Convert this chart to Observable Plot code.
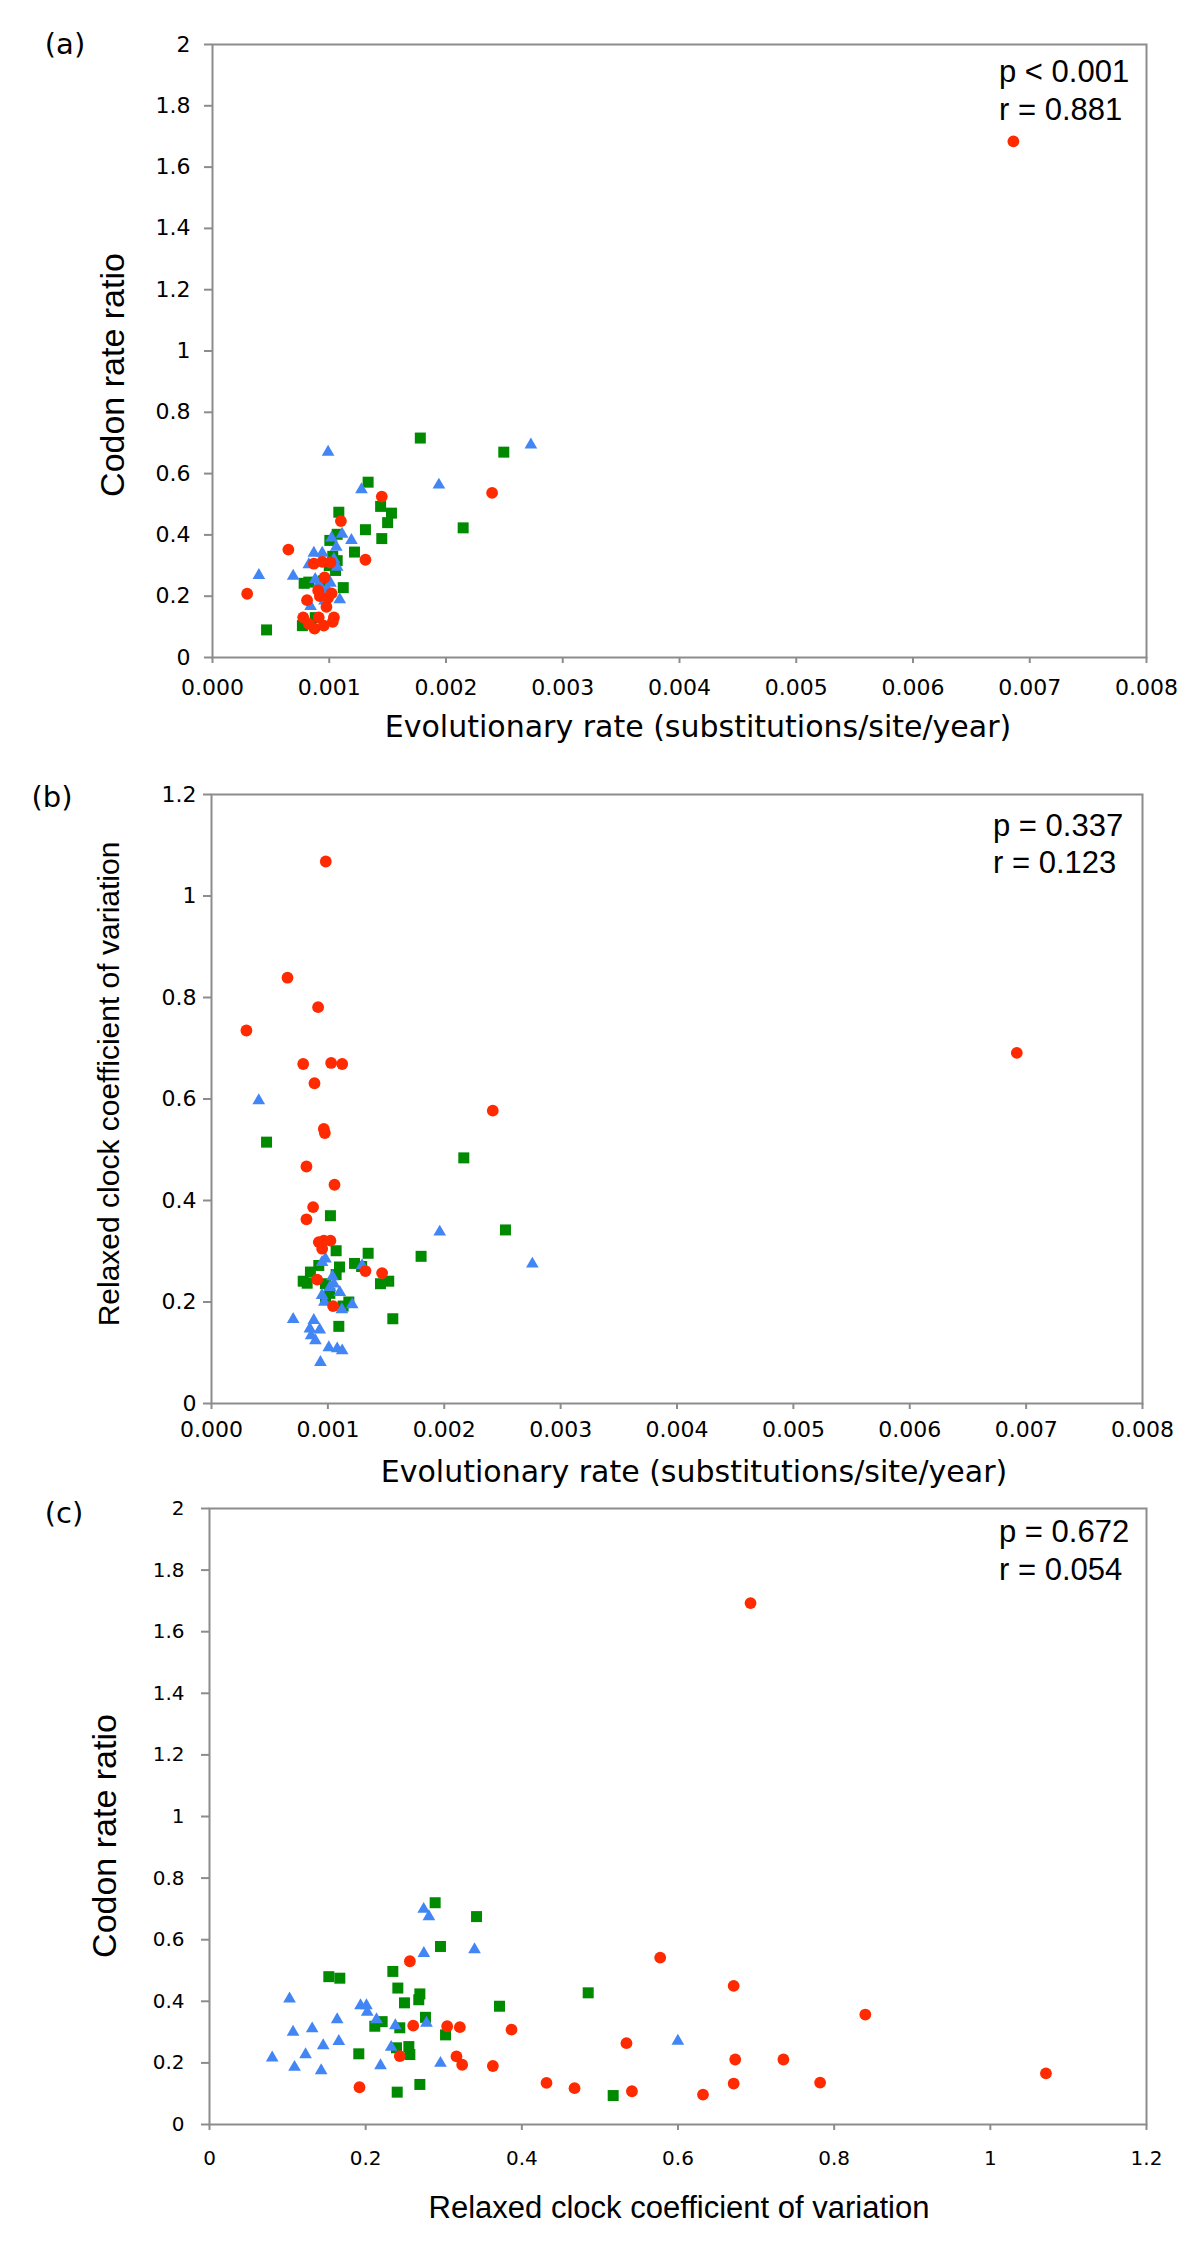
<!DOCTYPE html>
<html>
<head>
<meta charset="utf-8">
<script src="https://cdn.jsdelivr.net/npm/d3@7"></script>
<script src="https://cdn.jsdelivr.net/npm/@observablehq/plot@0.6"></script>
<style>
  html, body { margin: 0; padding: 0; background: #fff; }
  #wrap { position: relative; width: 1200px; height: 2246px; overflow: hidden; background: #fff; }
  .panel { position: absolute; left: 0; }
  .t { position: absolute; white-space: nowrap; line-height: 1; color: #000; }
  .stat { font-family: "Liberation Sans", Arial, sans-serif; font-size: 31px; }
  .plabel { font-family: "DejaVu Sans", sans-serif; font-size: 29px; }
</style>
</head>
<body>
<div id="wrap"></div>
<script>
// ---------------- DATA ----------------
// Tick values
const rateTicks  = [0, 0.001, 0.002, 0.003, 0.004, 0.005, 0.006, 0.007, 0.008];
const ratioTicks = [0, 0.2, 0.4, 0.6, 0.8, 1, 1.2, 1.4, 1.6, 1.8, 2];
const cvTicks    = [0, 0.2, 0.4, 0.6, 0.8, 1, 1.2];

// Panel (a): [evolutionary rate, codon rate ratio]
const aRed = [
  [0.00686,1.684],[0.000297,0.208],[0.00065,0.352],[0.0011,0.445],[0.00145,0.525],[0.00131,0.319],
  [0.002395,0.537],[0.000868,0.306],[0.00094,0.312],[0.00101,0.31],[0.00096,0.261],[0.000905,0.219],
  [0.00102,0.209],[0.00081,0.187],[0.000976,0.165],[0.000777,0.131],[0.00091,0.131],[0.00104,0.131],
  [0.000825,0.11],[0.000874,0.094],[0.000953,0.104],[0.00103,0.116],[0.00092,0.2],[0.00099,0.195]
];
const aGreen = [
  [0.00178,0.716],[0.002495,0.67],[0.001333,0.572],[0.002147,0.423],[0.000463,0.09],[0.001082,0.474],
  [0.00144,0.493],[0.001533,0.471],[0.0015,0.44],[0.00131,0.417],[0.00145,0.388],[0.001068,0.402],
  [0.001005,0.382],[0.001216,0.344],[0.001068,0.316],[0.001054,0.284],[0.000825,0.246],[0.000785,0.242],
  [0.00112,0.228],[0.00077,0.104],[0.00103,0.33],[0.00095,0.25],[0.00088,0.13],[0.001,0.3]
];
const aBlue = [
  [0.00099,0.67],[0.002727,0.694],[0.001939,0.563],[0.001276,0.548],[0.000397,0.268],[0.000691,0.266],
  [0.00111,0.403],[0.00119,0.382],[0.00106,0.36],[0.000868,0.341],[0.00094,0.341],[0.001068,0.295],
  [0.000825,0.303],[0.00101,0.243],[0.00091,0.24],[0.00109,0.189],[0.00084,0.167],[0.00095,0.2],
  [0.00098,0.225],[0.00092,0.31],[0.00104,0.32],[0.00088,0.255],[0.00102,0.39],[0.00096,0.185]
];

// Panel (b): [evolutionary rate, relaxed clock CV]
const bRed = [
  [0.0003,0.735],[0.000788,0.669],[0.001028,0.671],[0.001123,0.669],[0.000885,0.631],[0.002417,0.577],
  [0.000965,0.541],[0.000974,0.533],[0.000816,0.467],[0.001057,0.431],[0.000873,0.387],[0.000816,0.363],
  [0.000922,0.318],[0.000965,0.321],[0.001022,0.321],[0.000951,0.305],[0.001323,0.261],[0.001466,0.257],
  [0.000908,0.244],[0.001045,0.192],[0.000982,1.068],[0.000653,0.839],[0.000916,0.781],[0.00692,0.691]
];
const bGreen = [
  [0.000473,0.515],[0.002168,0.484],[0.002526,0.342],[0.001801,0.29],[0.001022,0.37],[0.001071,0.301],
  [0.001346,0.296],[0.001229,0.276],[0.00129,0.27],[0.0011,0.269],[0.001071,0.254],[0.000922,0.272],
  [0.00085,0.259],[0.000788,0.241],[0.000822,0.237],[0.000979,0.236],[0.001452,0.236],[0.001523,0.241],
  [0.001017,0.217],[0.001131,0.192],[0.001094,0.152],[0.001558,0.167],[0.00098,0.21],[0.00118,0.2]
];
const bBlue = [
  [0.000406,0.597],[0.001961,0.338],[0.002757,0.275],[0.000979,0.285],[0.00095,0.278],[0.001294,0.272],
  [0.001051,0.236],[0.001017,0.229],[0.001102,0.219],[0.00095,0.213],[0.001209,0.195],[0.000702,0.166],
  [0.000879,0.164],[0.000845,0.147],[0.00093,0.145],[0.000856,0.134],[0.000893,0.124],[0.001008,0.11],
  [0.00108,0.108],[0.001123,0.104],[0.000936,0.081],[0.00104,0.25],[0.00097,0.2],[0.00112,0.185]
];

// Panel (c): [relaxed clock CV, codon rate ratio]
const cRed = [
  [0.2566,0.53],[0.1921,0.121],[0.2609,0.321],[0.2437,0.222],[0.3044,0.319],[0.3206,0.316],
  [0.3163,0.221],[0.3236,0.194],[0.3629,0.19],[0.3868,0.308],[0.4316,0.135],[0.4675,0.118],
  [0.534,0.264],[0.541,0.108],[0.6929,1.693],[0.5772,0.542],[0.6713,0.45],[0.8399,0.357],
  [0.632,0.097],[0.6713,0.133],[0.6733,0.211],[0.735,0.211],[0.782,0.136],[1.0712,0.166]
];
const cGreen = [
  [0.2958,0.578],[0.2348,0.497],[0.1528,0.48],[0.1669,0.475],[0.2412,0.443],[0.2694,0.424],
  [0.268,0.405],[0.485,0.4275],[0.2497,0.395],[0.3714,0.384],[0.2766,0.348],[0.2211,0.334],
  [0.2117,0.319],[0.2437,0.314],[0.3023,0.291],[0.2553,0.253],[0.2395,0.249],[0.2566,0.227],
  [0.1912,0.2295],[0.2694,0.13],[0.2404,0.105],[0.517,0.094],[0.342,0.675],[0.289,0.72]
];
const cBlue = [
  [0.0803,0.2165],[0.1025,0.408],[0.107,0.3],[0.1089,0.186],[0.1315,0.311],[0.123,0.227],
  [0.1456,0.256],[0.143,0.175],[0.1635,0.341],[0.1656,0.27],[0.1934,0.386],[0.201,0.386],
  [0.202,0.365],[0.2139,0.341],[0.238,0.321],[0.2327,0.251],[0.219,0.1915],[0.2745,0.556],
  [0.3394,0.568],[0.2779,0.329],[0.2958,0.199],[0.2743,0.699],[0.281,0.675],[0.5998,0.271]
];

// Texts
const xTitleRate = "Evolutionary rate (substitutions/site/year)";
const yTitleRatio = "Codon rate ratio";
const titleCV = "Relaxed clock coefficient of variation";
const stats = {a: ["p < 0.001", "r = 0.881"], b: ["p = 0.337", "r = 0.123"], c: ["p = 0.672", "r = 0.054"]};

// ---------------- STYLE ----------------
const RED = "#ff2a00", GREEN = "#008a00", BLUE = "#4285f4", AXIS = "#8c8c8c";
const fmtRate = d3.format(".3f");
const fmtNum = d3.format("~g");

function panel(cfg) {
  return Plot.plot({
    width: 1200,
    height: cfg.height,
    marginTop: cfg.m[0], marginRight: cfg.m[1], marginBottom: cfg.m[2], marginLeft: cfg.m[3],
    style: {fontFamily: "'DejaVu Sans', sans-serif", fontSize: cfg.fs + "px", color: "#000", background: "transparent", overflow: "visible"},
    x: {domain: cfg.xDomain},
    y: {domain: cfg.yDomain},
    marks: [
      Plot.axisX({ticks: cfg.xTicks, tickFormat: cfg.xFmt, tickSize: 6, tickPadding: cfg.xPad, stroke: AXIS, strokeWidth: 2, fill: "#000", label: null}),
      Plot.axisY({ticks: cfg.yTicks, tickFormat: cfg.yFmt, tickSize: 8, tickPadding: cfg.yPad, stroke: AXIS, strokeWidth: 2, fill: "#000", label: null}),
      Plot.dot(cfg.green, {x: d => d[0], y: d => d[1], symbol: "square", r: 6.2, fill: GREEN}),
      Plot.dot(cfg.blue, {x: d => d[0], y: d => d[1], symbol: "triangle", r: 4.7, fill: BLUE}),
      Plot.dot(cfg.red, {x: d => d[0], y: d => d[1], symbol: "circle", r: 5.9, fill: RED}),
      Plot.frame({stroke: AXIS, strokeWidth: 2})
    ]
  });
}

const wrap = document.getElementById("wrap");
function place(node, top) {
  node.classList.add("panel");
  node.style.top = top + "px";
  wrap.appendChild(node);
}
function text(str, cls, css) {
  const d = document.createElement("div");
  d.className = "t " + (cls || "");
  d.textContent = str;
  Object.assign(d.style, css);
  wrap.appendChild(d);
  return d;
}

place(panel({height: 740, m: [44, 54, 83, 212], fs: 22, xDomain: [0, 0.008], yDomain: [0, 2],
  xTicks: rateTicks, yTicks: ratioTicks, xFmt: fmtRate, yFmt: fmtNum, xPad: 16, yPad: 14,
  red: aRed, green: aGreen, blue: aBlue}), 0);
place(panel({height: 740, m: [54, 58, 77, 211], fs: 22, xDomain: [0, 0.008], yDomain: [0, 1.2],
  xTicks: rateTicks, yTicks: cvTicks, xFmt: fmtRate, yFmt: fmtNum, xPad: 12, yPad: 7,
  red: bRed, green: bGreen, blue: bBlue}), 740);
place(panel({height: 766, m: [28, 54, 122, 209], fs: 20, xDomain: [0, 1.2], yDomain: [0, 2],
  xTicks: cvTicks, yTicks: ratioTicks, xFmt: fmtNum, yFmt: fmtNum, xPad: 20, yPad: 17,
  red: cRed, green: cGreen, blue: cBlue}), 1480);

// Panel letters
text("(a)", "plabel", {left: "65px", top: "44px", transform: "translate(-50%,-50%)"});
text("(b)", "plabel", {left: "52px", top: "797px", transform: "translate(-50%,-50%)"});
text("(c)", "plabel", {left: "64px", top: "1513px", transform: "translate(-50%,-50%)"});

// Axis titles
const xTitleCss = {fontFamily: "'DejaVu Sans', sans-serif", fontSize: "30px", transform: "translate(-50%,-50%)"};
text(xTitleRate, "", Object.assign({left: "698px", top: "727px"}, xTitleCss));
text(xTitleRate, "", Object.assign({left: "694px", top: "1472px"}, xTitleCss));
text(titleCV, "", {left: "679px", top: "2207px", fontFamily: "'Liberation Sans', Arial, sans-serif", fontSize: "31px", transform: "translate(-50%,-50%)"});

const yTitleCss = (fs) => ({fontFamily: "'Liberation Sans', Arial, sans-serif", fontSize: fs + "px", transform: "translate(-50%,-50%) rotate(-90deg)"});
text(yTitleRatio, "", Object.assign({left: "112px", top: "375px"}, yTitleCss(34)));
text(titleCV, "", Object.assign({left: "109px", top: "1084px"}, yTitleCss(30)));
text(yTitleRatio, "", Object.assign({left: "104px", top: "1836px"}, yTitleCss(34)));

// Statistics
text(stats.a[0], "stat", {left: "999px", top: "56px"});
text(stats.a[1], "stat", {left: "999px", top: "94px"});
text(stats.b[0], "stat", {left: "993px", top: "810px"});
text(stats.b[1], "stat", {left: "993px", top: "847px"});
text(stats.c[0], "stat", {left: "999px", top: "1516px"});
text(stats.c[1], "stat", {left: "999px", top: "1554px"});
</script>
</body>
</html>
